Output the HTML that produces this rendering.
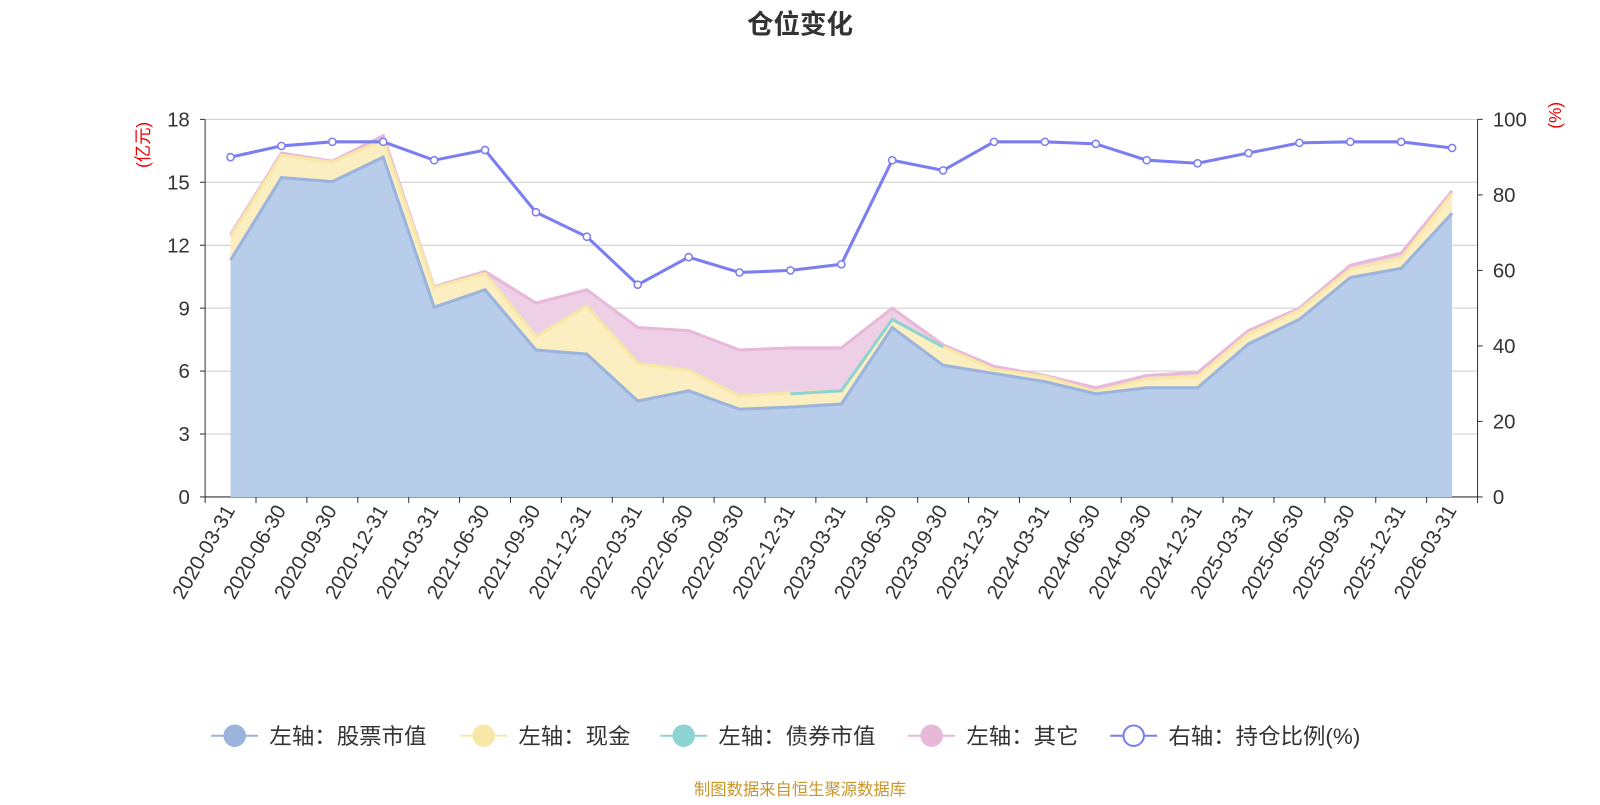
<!DOCTYPE html>
<html><head><meta charset="utf-8"><style>
body{margin:0;background:#fff;width:1600px;height:800px;overflow:hidden;font-family:"Liberation Sans","Noto Sans CJK SC",sans-serif}
</style></head><body>
<svg id="s" width="1600" height="800" viewBox="0 0 1568 784" xmlns="http://www.w3.org/2000/svg" font-family="Liberation Sans, Noto Sans CJK SC, sans-serif"></svg>
<script>
const s=document.getElementById('s');let h='';
const X=i=>201+49.88*(i+0.5);
h+='<text x="784" y="33" text-anchor="middle" font-size="26" font-weight="bold" fill="#333">仓位变化</text>';
for(let k=0;k<=6;k++){const y=487-k*61.67;h+=`<line x1="201" x2="1448" y1="${y}" y2="${y}" stroke="${k?'#ccc':'#333'}" stroke-width="1"/>`;
h+=`<text x="186" y="${y+7}" text-anchor="end" font-size="20" fill="#333">${k*3}</text>`;h+=`<line x1="196" x2="201" y1="${y}" y2="${y}" stroke="#333"/>`;}
for(let k=0;k<=5;k++){const y=487-k*74;h+=`<text x="1463" y="${y+7}" font-size="20" fill="#333">${k*20}</text>`;h+=`<line x1="1448" x2="1453" y1="${y}" y2="${y}" stroke="#333"/>`;}
h+='<line x1="201" x2="201" y1="117" y2="487" stroke="#333"/><line x1="1448" x2="1448" y1="117" y2="487" stroke="#333"/>';
h+='<text transform="translate(146,142) rotate(-90)" text-anchor="middle" font-size="17" fill="#e00">(亿元)</text>';
h+='<text transform="translate(1530,113) rotate(-90)" text-anchor="middle" font-size="17" fill="#e00">(%)</text>';
const blue=[255,174,178,154,301,284,343,347,393,383,401,399,396,321,358,366,374,386,380,380,337,313,272,263,209];
const yel=[232,152,159,137,282,268,330,300,356,363,388,385,383,313,340,362,369,384,371,369,327,304,264,253,190];
const pink=[230,150,158,133,281,266,297,284,321,324,343,341,341,302,338,359,368,380,368,365,324,302,260,248,187];
const ratio=[154,143,139,139,157,147,208,232,279,252,267,265,259,157,167,139,139,141,157,160,150,140,139,139,145];
const pts=a=>a.map((y,i)=>X(i)+','+y).join(' ');
const rev=a=>a.map((y,i)=>[X(i),y]).reverse().map(p=>p.join(',')).join(' ');
h+=`<polygon points="${pts(pink)} ${rev(yel)}" fill="#edd0e5"/>`;
h+=`<polygon points="${pts(yel)} ${rev(blue)}" fill="#fbeec0"/>`;
h+=`<polygon points="${pts(blue)} ${X(24)},487 ${X(0)},487" fill="#b8cdea"/>`;
h+=`<polyline points="${pts(pink)}" fill="none" stroke="#e8b8d8" stroke-width="3"/>`;
h+=`<polyline points="${pts(yel)}" fill="none" stroke="#f7e8a8" stroke-width="3"/>`;
h+=`<polyline points="${X(11)},386 ${X(12)},383 ${X(13)},313 ${X(14)},340" fill="none" stroke="#8ed3d3" stroke-width="3"/>`;
h+=`<polyline points="${pts(blue)}" fill="none" stroke="#9ab4de" stroke-width="3"/>`;
h+=`<polyline points="${pts(ratio)}" fill="none" stroke="#7b7ef0" stroke-width="3"/>`;
ratio.forEach((y,i)=>h+=`<circle cx="${X(i)}" cy="${y}" r="3.5" fill="#fff" stroke="#7b7ef0" stroke-width="1.5"/>`);
const d=['2020-03-31','2020-06-30','2020-09-30','2020-12-31','2021-03-31','2021-06-30','2021-09-30','2021-12-31','2022-03-31','2022-06-30','2022-09-30','2022-12-31','2023-03-31','2023-06-30','2023-09-30','2023-12-31','2024-03-31','2024-06-30','2024-09-30','2024-12-31','2025-03-31','2025-06-30','2025-09-30','2025-12-31','2026-03-31'];
for(let i=0;i<=25;i++){const x=201+49.88*i;h+=`<line x1="${x}" x2="${x}" y1="487" y2="493" stroke="#333"/>`;}
d.forEach((t,i)=>h+=`<text transform="translate(${X(i)+5},500) rotate(-60)" text-anchor="end" font-size="20" fill="#333">${t}</text>`);
const lg=[[207,'#9ab4de','#9ab4de','左轴：股票市值'],[451,'#f7e8a8','#f7e8a8','左轴：现金'],[647,'#8ed3d3','#8ed3d3','左轴：债券市值'],[890,'#e8b8d8','#e8b8d8','左轴：其它'],[1088,'#7b7ef0','#fff','右轴：持仓比例(%)']];
lg.forEach(([x,c,f,t])=>{h+=`<line x1="${x}" x2="${x+46}" y1="721" y2="721" stroke="${c}" stroke-width="2"/><circle cx="${x+23}" cy="721" r="10" fill="${f}" stroke="${c}" stroke-width="2"/><text x="${x+57}" y="729" font-size="22" fill="#333">${t}</text>`;});
h+='<text x="784" y="779" text-anchor="middle" font-size="16" fill="#c8962a">制图数据来自恒生聚源数据库</text>';
s.innerHTML=h;
</script>
</body></html>
